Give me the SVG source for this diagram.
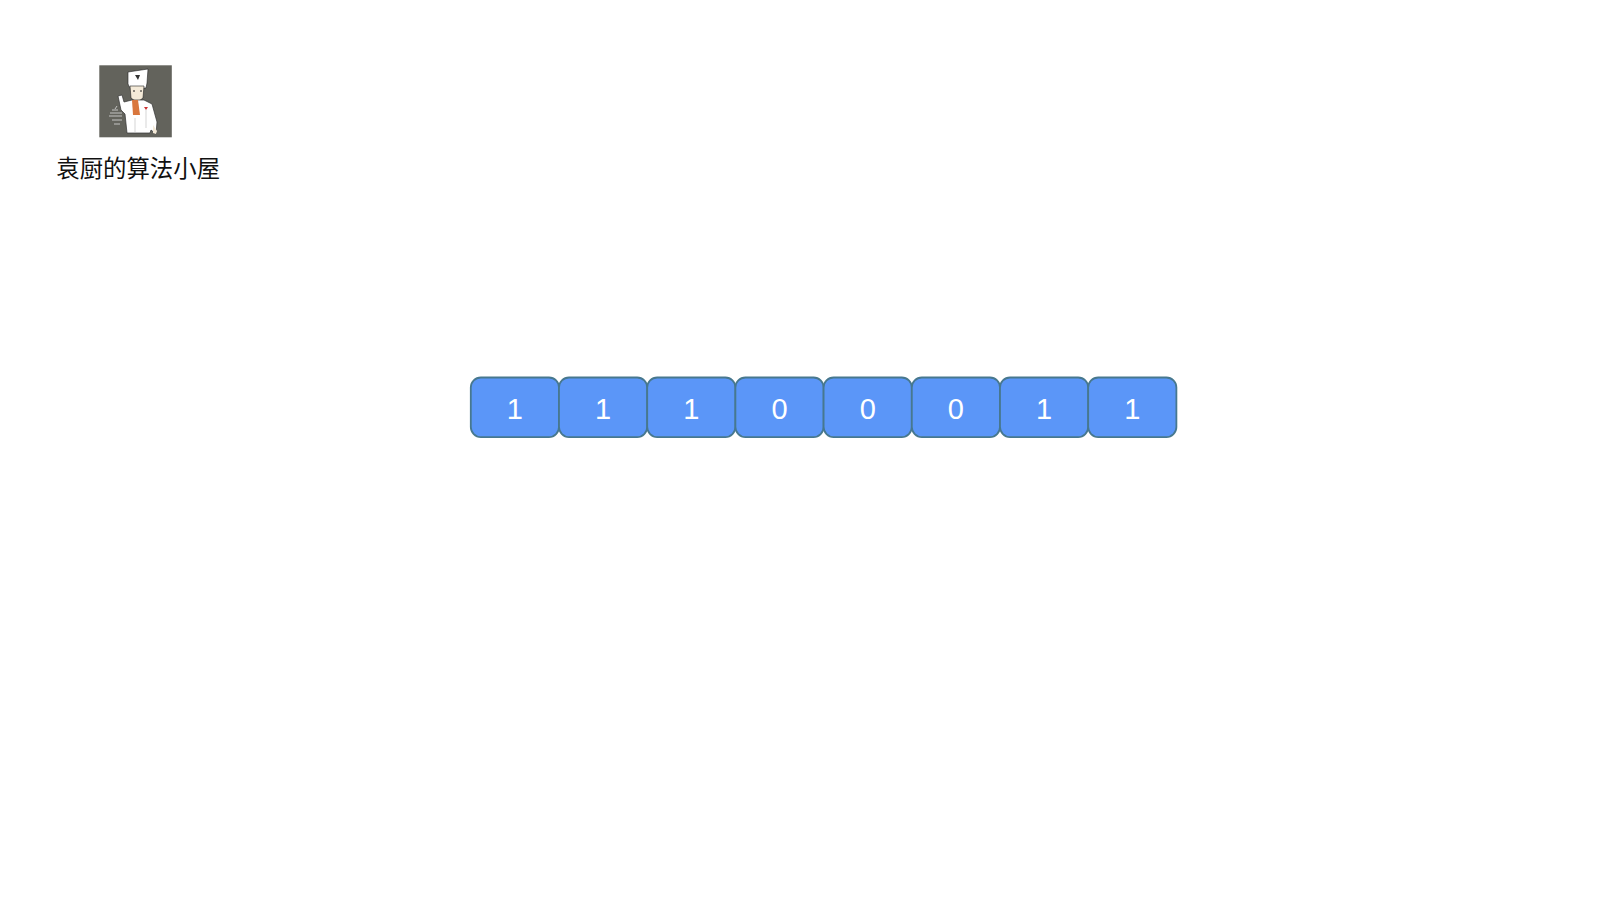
<svg xmlns="http://www.w3.org/2000/svg" width="1600" height="900" viewBox="0 0 1600 900">
<style>
.cell{fill:#5b96f8;stroke:#47788f;stroke-width:1.8}
.num{font-family:"Liberation Sans",Arial,sans-serif;font-size:29px;fill:#fff;text-anchor:middle}
.title{font-family:"Noto Sans CJK SC","Liberation Sans",sans-serif;font-size:23.400px;fill:#111}
</style>
<rect width="1600" height="900" fill="#fff"/>
<g id="logo">
<rect x="99.300" y="65.300" width="72.500" height="72" fill="#63635c"/>
<path d="M128 72 L148 69 L147 83 L146 88 L130 88 L128 84Z" fill="#fff" stroke="#222" stroke-width=".6"/>
<path d="M135 75h5l-2 5z" fill="#333"/>
<path d="M130 86h14l-1 12q-6 6-12 0z" fill="#f4ead8" stroke="#222" stroke-width=".6"/>
<path d="M133 91h2M140 91h2" stroke="#222" stroke-width="1"/>
<path d="M124 102 L132 100 L144 100 L152 104 L157 122 L156 134 L151 130 L150 133 L127 133 L125 114 L121 110 L118 96 L122 95Z" fill="#fff" stroke="#333" stroke-width=".7"/>
<path d="M132 100h6l2 15h-7z" fill="#d9773d"/>
<path d="M144 107l4 0-2 3z" fill="#c33"/>
<path d="M146 110v18M135 118v14" stroke="#bbb" stroke-width=".6" fill="none"/>
<path d="M153 125l4 6-1 3-3-1z" fill="#f4ead8"/>
<path d="M112 110h6M110 113h12M109 116h13M112 120h10M114 124h6M115 109l2-3" stroke="#ddd" stroke-width=".8" fill="none"/>
</g>
<g id="title"><text class="title" x="56.300" y="177.300">袁厨的算法小屋</text></g>
<g id="cell-0"><rect class="cell" x="470.800" y="377.500" width="88.200" height="59.600" rx="10"/><text class="num" x="514.900" y="419">1</text></g>
<g id="cell-1"><rect class="cell" x="559" y="377.500" width="88.200" height="59.600" rx="10"/><text class="num" x="603.100" y="419">1</text></g>
<g id="cell-2"><rect class="cell" x="647.200" y="377.500" width="88.200" height="59.600" rx="10"/><text class="num" x="691.300" y="419">1</text></g>
<g id="cell-3"><rect class="cell" x="735.400" y="377.500" width="88.200" height="59.600" rx="10"/><text class="num" x="779.500" y="419">0</text></g>
<g id="cell-4"><rect class="cell" x="823.600" y="377.500" width="88.200" height="59.600" rx="10"/><text class="num" x="867.700" y="419">0</text></g>
<g id="cell-5"><rect class="cell" x="911.800" y="377.500" width="88.200" height="59.600" rx="10"/><text class="num" x="955.900" y="419">0</text></g>
<g id="cell-6"><rect class="cell" x="1000" y="377.500" width="88.200" height="59.600" rx="10"/><text class="num" x="1044.100" y="419">1</text></g>
<g id="cell-7"><rect class="cell" x="1088.200" y="377.500" width="88.200" height="59.600" rx="10"/><text class="num" x="1132.300" y="419">1</text></g>
</svg>
